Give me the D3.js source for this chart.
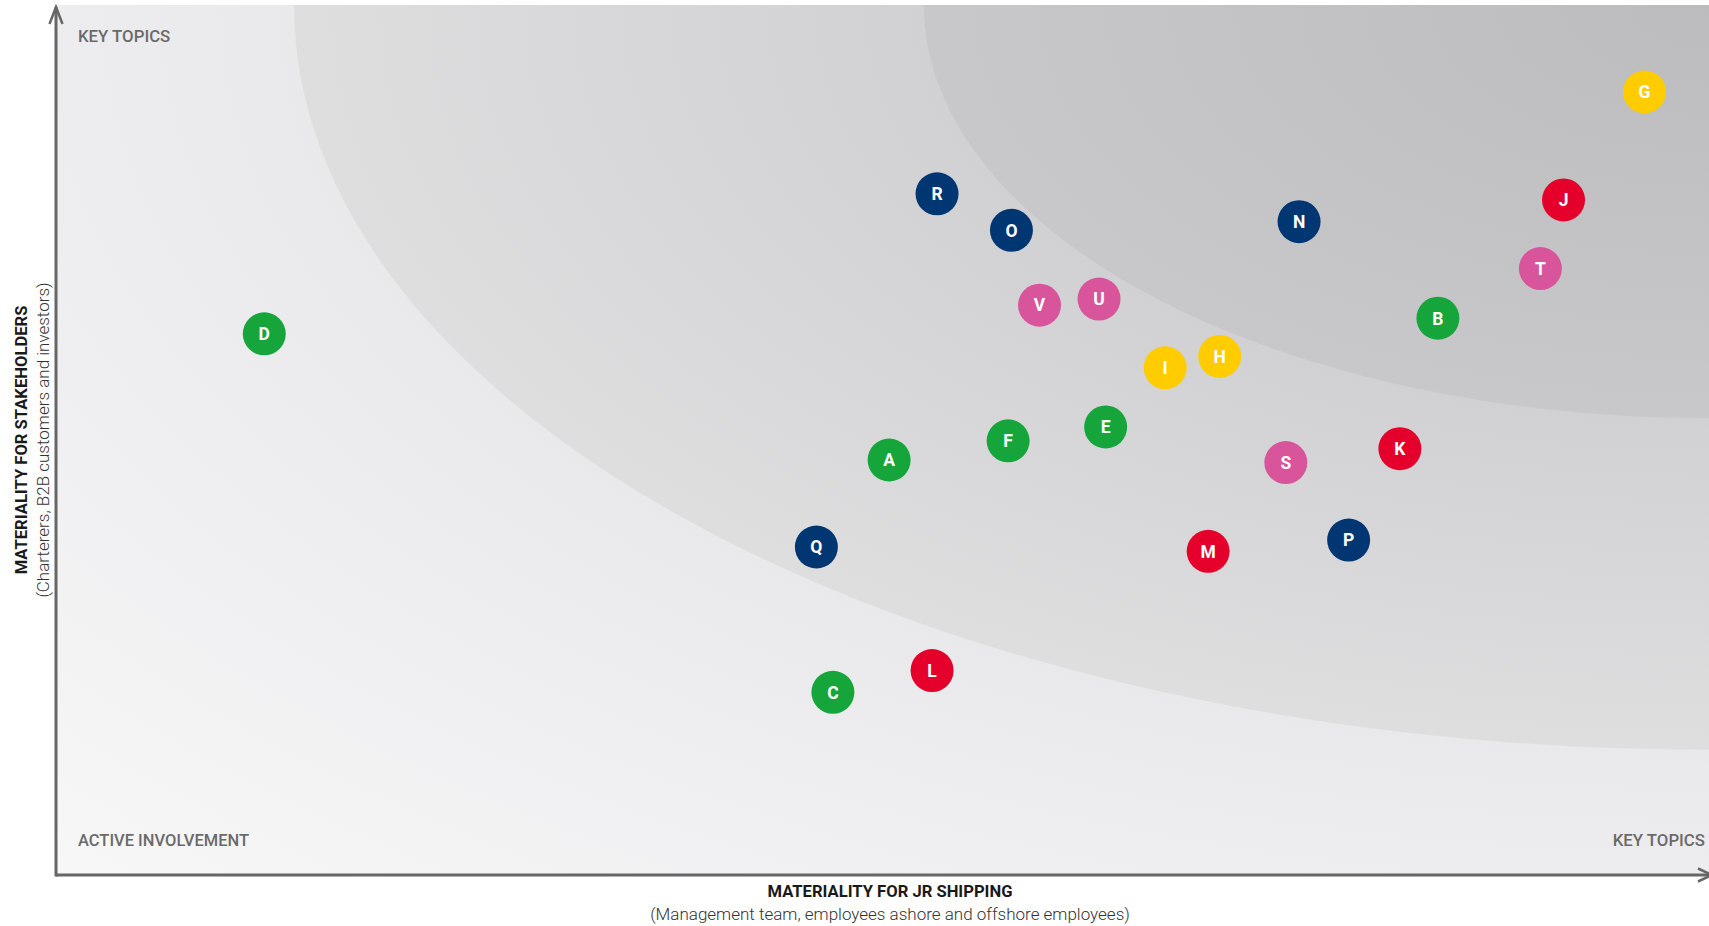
<!DOCTYPE html>
<html>
<head>
<meta charset="utf-8">
<script src="https://cdn.jsdelivr.net/npm/d3@7"></script>
<style>
  html, body { margin: 0; padding: 0; background: #ffffff; }
  svg { display: block; font-family: Roboto, "Open Sans", sans-serif; }
</style>
</head>
<body>
<svg id="chart" width="1709" height="926"></svg>
<script>
// ---- Data ----
const topics = ["A","B","C","D","E","F","G","H","I","J","K","L","M","N","O","P","Q","R","S","T","U","V"];
const jrShipping = [50.4,83.6,47.0,12.6,63.5,57.6,96.1,70.4,67.1,91.2,81.3,53.0,69.7,75.2,57.8,78.2,46.0,53.3,74.4,89.8,63.1,59.5];
const stakeholders = [47.7,64.0,21.0,62.2,51.5,49.9,90.0,59.6,58.3,77.6,49.0,23.5,37.2,75.1,74.1,38.5,37.7,78.3,47.4,69.7,66.2,65.5];
const topicGroup = ["green","green","green","green","green","green","yellow","yellow","yellow","red","red","red","red","navy","navy","navy","navy","navy","pink","pink","pink","pink"];
const groups = ["green","yellow","red","navy","pink"];
const groupColors = ["#16a53b","#ffcc00","#e4002b","#003672","#d9559b"];
const zoneRadii = [145, 85.6, 47.5];   // materiality zones centred on the top-right corner
const cornerLabels = ["KEY TOPICS","ACTIVE INVOLVEMENT","KEY TOPICS"];
const xTitle = ["MATERIALITY FOR JR SHIPPING","(Management team, employees ashore and offshore employees)"];
const yTitle = ["MATERIALITY FOR STAKEHOLDERS","(Charterers, B2B customers and investors)"];

// ---- Layout ----
const W = 1709, H = 926;
const plot = {left: 56, top: 5, right: 1709, bottom: 875};
const x = d3.scaleLinear().domain([0,100]).range([plot.left, plot.right]);
const y = d3.scaleLinear().domain([0,100]).range([plot.bottom, plot.top]);
const color = d3.scaleOrdinal().domain(groups).range(groupColors);

const svg = d3.select("#chart");
const defs = svg.append("defs");
defs.append("clipPath").attr("id","plotClip")
  .append("rect").attr("x",plot.left).attr("y",plot.top)
  .attr("width",plot.right-plot.left).attr("height",plot.bottom-plot.top);

const zoneStops = [
  [[0,"#dcdcde"],[85.6/145,"#e9e9eb"],[100/145,"#ededef"],[1,"#f8f8f8"]],
  [[47.5/85.6,"#d1d1d3"],[1,"#dededf"]],
  [[0,"#bcbbbd"],[1,"#c8c8ca"]]
];
zoneRadii.forEach((r,i)=>{
  const g = defs.append("radialGradient").attr("id","zg"+i)
    .attr("cx","50%").attr("cy","50%").attr("r","50%");
  zoneStops[i].forEach(s=>g.append("stop").attr("offset",s[0]).attr("stop-color",s[1]));
});

const bg = svg.append("g").attr("clip-path","url(#plotClip)");
bg.selectAll("ellipse").data(zoneRadii).join("ellipse")
  .attr("cx", x(100)).attr("cy", y(100))
  .attr("rx", r => x(r) - x(0))
  .attr("ry", r => y(0) - y(r))
  .attr("fill", (r,i) => `url(#zg${i})`);

// ---- Corner labels ----
const labelG = svg.append("g").attr("fill","#6a6a6a").attr("font-size",16.8).attr("font-weight",500);
labelG.append("text").attr("x",78).attr("y",42).text(cornerLabels[0]);
labelG.append("text").attr("x",78).attr("y",846).attr("textLength",171).attr("lengthAdjust","spacingAndGlyphs").text(cornerLabels[1]);
labelG.append("text").attr("x",1705).attr("y",846).attr("text-anchor","end").text(cornerLabels[2]);

// ---- Axes ----
const axisG = svg.append("g").attr("stroke","#666").attr("stroke-width",3).attr("fill","none");
axisG.append("line").attr("x1",plot.left).attr("x2",plot.left).attr("y1",plot.bottom+1.5).attr("y2",7);
axisG.append("path").attr("d",`M${plot.left-6.5},24 L${plot.left},7 L${plot.left+6.5},24`).attr("stroke-width",2.5);
axisG.append("line").attr("x1",plot.left).attr("x2",1712).attr("y1",plot.bottom).attr("y2",plot.bottom);
axisG.append("path").attr("d",`M1698,${plot.bottom-6.5} L1712,${plot.bottom} L1698,${plot.bottom+6.5}`).attr("stroke-width",2.5);

// ---- Axis titles ----
const xc = 890;
svg.append("text").attr("x",xc).attr("y",897).attr("text-anchor","middle")
  .attr("font-size",16.6).attr("font-weight",700).attr("fill","#1a1a1a").text(xTitle[0]);
svg.append("text").attr("x",xc).attr("y",920).attr("text-anchor","middle")
  .attr("font-size",17).attr("font-weight",300).attr("fill","#333").text(xTitle[1]);
svg.append("text").attr("transform","translate(27,440) rotate(-90)").attr("text-anchor","middle")
  .attr("font-size",16.6).attr("font-weight",700).attr("fill","#1a1a1a").text(yTitle[0]);
svg.append("text").attr("transform","translate(49,440) rotate(-90)").attr("text-anchor","middle")
  .attr("font-size",17).attr("font-weight",300).attr("fill","#333").text(yTitle[1]);

// ---- Points ----
const pts = topics.map((t,i)=>({t, vx: jrShipping[i], vy: stakeholders[i], g: topicGroup[i]}));
const node = svg.append("g").selectAll("g").data(pts).join("g")
  .attr("transform", d => `translate(${x(d.vx)},${y(d.vy)})`);
node.append("circle").attr("r",21.5).attr("fill", d => color(d.g));
node.append("text").attr("text-anchor","middle").attr("dy","0.36em")
  .attr("font-size",17.5).attr("font-weight",700).attr("fill","#fff").text(d => d.t);
</script>
</body>
</html>
